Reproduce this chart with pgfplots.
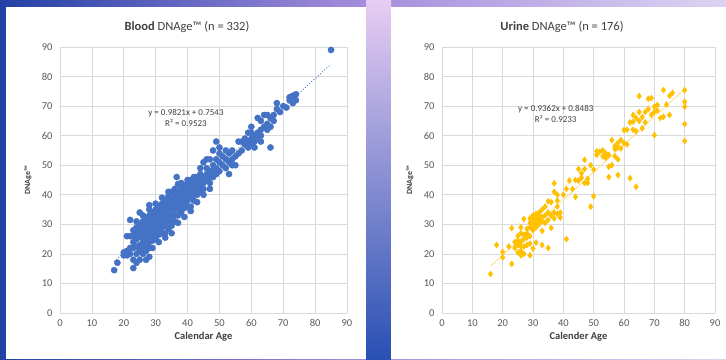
\documentclass[border=0pt]{standalone}
\usepackage{pgfplots}
\pgfplotsset{compat=1.18}
\usepackage{fontspec}
\setmainfont{Carlito}
\definecolor{bluept}{HTML}{4472C4}
\definecolor{orpt}{HTML}{FFC000}
\definecolor{ortrend}{HTML}{FFE2A0}
\definecolor{gridc}{HTML}{D9D9D9}
\definecolor{tickc}{HTML}{595959}
\definecolor{titc}{HTML}{404040}
\pgfplotsset{
  panel/.style={
    scale only axis, anchor=south west,
    height=266pt,
    xmin=0, xmax=90, ymin=0, ymax=90,
    xtick distance=10, ytick distance=10,
    grid=major, major grid style={gridc, line width=0.6pt},
    axis line style={draw=none},
    tick style={draw=none},
    /pgf/number format/assume math mode=true,
    ticklabel style={font=\fontsize{10.5}{12}\selectfont, text=tickc},
    xticklabel style={yshift=-3pt},
    yticklabel style={xshift=-4pt},
    xlabel style={font=\fontsize{10.5}{12}\selectfont\bfseries, text=titc, yshift=2pt},
    clip=false,
  }
}
\begin{document}
\begin{tikzpicture}
% background
\shade[left color={rgb,255:red,35;green,65;blue,165}, right color={rgb,255:red,220;green,212;blue,242}, middle color={rgb,255:red,165;green,140;blue,220}] (0,0) rectangle (726pt,359pt);
\shade[top color={rgb,255:red,232;green,205;blue,242}, bottom color={rgb,255:red,40;green,80;blue,180}] (366pt,0) rectangle (391pt,359pt);
\fill[white] (6pt,0) rectangle (366pt,352pt);
\fill[white] (391pt,0) rectangle (726pt,352pt);

\begin{axis}[panel, at={(60pt,46pt)}, width=287pt, xlabel={Calendar Age}]
\addplot[only marks, mark=*, mark size=3.1pt, mark options={fill=bluept, draw=bluept}] coordinates {
(17,14.5)(18,17)(20,19.5)(20,20.5)(21,19.5)(21,21)(21,26)(22,20)(22,22)(22,26)(22,31.5)(23,15.2)(23,18)(23,22)(23,24)(23,26)(23,28)
(24,17)(24,20)(24,22.5)(24,25)(24,27)(24,29)(25,18)(25,21)(25,23)(25,26)(25,28)(25,30)(25,34)
(26,20)(26,22)(26,24)(26,25.5)(26,27)(26,29)(26,31)(27,21)(27,23)(27,25)(27,27)(27,28.5)(27,30)(27,32)
(28,19)(28,22)(28,24)(28,26)(28,28)(28,30)(28,31)(28,33)(28,35)(29,24.5)(29,26)(29,27.5)(29,29)(29,31)(29,32.5)(29,34)
(30,25)(30,27)(30,28.5)(30,30)(30,31.5)(30,33)(30,35)(31,26.5)(31,28)(31,29.5)(31,31)(31,32.5)(31,34)(31,36)
(32,27)(32,29)(32,30.5)(32,32)(32,33.5)(32,35)(32,37)(33,27)(33,29.5)(33,31)(33,33)(33,34.5)(33,36)(33,38)
(34,28.5)(34,31)(34,32.5)(34,34)(34,35.5)(34,37)(34,39.5)(35,29.5)(35,31)(35,33)(35,35)(35,37)(35,38.5)(35,41)
(36,31)(36,33)(36,35)(36,36.5)(36,38)(36,40)(36.6,46)(37,33)(37,35)(37,37)(37,39)(37,41)(37,43.6)
(38,34)(38,36)(38,38)(38,40)(38,42)(39,35.5)(39,37)(39,39)(39,41)(39,43)(40,36)(40,38)(40,40)(40,42)(40,44)(40,45)
(41,36)(41,39)(41,41)(41,43)(41,45)(42,38)(42,40)(42,42)(42,44)(42,46)(43,40)(43,42)(43,44)(43,46)
(44,41)(44,43)(44,45)(44,47)(45,42)(45,44)(45,46)(45,51)(46,45)(46,47)(46,49)(47,44)(47,46)(47,48)(47,52)
(48,46)(48,48)(48,50)(48,55)(49,47)(49,49)(49,52)(49,58)(50,48)(50,51)(50,54)(51,50)(51,53)(52,49)(52,52)(52,55)
(53,47)(53,51)(53,54)(54,52)(54,55)(55,50)(55,53)(56,54)(56,58)(57,55)(58,57)(58,59)(59,56)(59,58)(59,61)
(60,57)(60,59)(60,61)(60,63)(61,56)(61,58)(61,60)(62,59)(62,61)(62,66)(63,60)(63,62)(63,65)(64,63)(64,67)
(65,62)(65,64)(66,56)(66,63)(66,66)(67,65)(67,67)(68,69)(68,71)(70,70)(71,69.5)(72,72)(72,73)(73,71)(73,73.5)(74,72)(74,74)(85,89)
(24,31)(26,33)(28,36.5)(30,37)(32,39)(34,41)(36,42)(38,44)(27,18)(29,22)(31,24)(33,25.5)(35,27)(37,30.5)(39,32.5)(41,34.5)(43,37.5)(45,40)(47,42)
(50,56)(54,50)(57,58)(63,58)(65,67)(69,68)(44,49)(46,52)
};
\addplot[bluept, dotted, line width=0.9pt] coordinates {(17,17.45)(85,84.23)};
\node[font=\fontsize{9}{11}\selectfont, text=titc, align=center] at (axis cs:39.5,66) {y = 0.9821x + 0.7543\\R² = 0.9523};
\end{axis}
\node[font=\fontsize{12.5}{14}\selectfont, text=titc] at (187pt,332pt) {\textbf{Blood} DNAge™ (n = 332)};
\node[font=\fontsize{8}{9}\selectfont\bfseries, text=titc, rotate=90] at (28pt,179pt) {DNAge™};

\begin{axis}[panel, at={(442pt,46pt)}, width=273pt, xlabel={Calender Age}]
\addplot[ortrend, line width=1pt] coordinates {(16,15.83)(80,75.74)};
\addplot[only marks, mark=diamond*, mark size=3pt, mark options={fill=orpt, draw=orpt}] coordinates {
(16,13.2)(18,23)(20,20.7)(20,18.8)(22,22.5)(23,16.6)(23,28.7)(24,22)(24,24)(25,20.5)(25,23)(25,24.5)(25,26)
(26,19.5)(26,21)(26,22.5)(26,24)(26,27)(26,29)(27,20)(27,22.5)(27,25)(27,26.5)(27,31.8)(28,23)(28,25.5)(28,27)(28,28.5)
(29,19.5)(29,23.5)(29,26)(29,29)(29,30.5)(29,32)(30,21.8)(30,28)(30,30)(30,31.5)(30,33)(31,23.8)(31,29)(31,30.5)(31,32)(31,33.5)
(32,30)(32,31.5)(32,33)(32,34)(33,23)(33,27.8)(33,31)(33,32.5)(33,35)(34,30.5)(34,33)(34,36)(35,22)(35,31.5)(35,34)(35,37.8)
(36,28.8)(36,33)(36,37.5)(37,32)(37,34)(37,41)(37,43.9)(38,33.5)(38,36)(38,38)(38,40)(39,32.3)(39,34)(40,40)(41,25)(41,42)
(42,44.8)(43,41.9)(44,39.3)(44,45)(45,44.8)(45,48.7)(46,45.8)(46,47.3)(47,44)(47,48.7)(47,51.8)(48,44)(48,45.4)(49,36)(49,50)
(50,39.5)(50,48.5)(51,53.5)(51,54.7)(52,54.6)(53,53)(53,55)(54,52.5)(54,54)(55,46)(55,49.5)(55,53.5)(56,58.5)(56,50)
(57,53)(57,55.5)(57,56.5)(58,46.7)(58,52)(58,56)(58,57.5)(59,55.7)(59,58.5)(60,57.5)(60,61.9)(61,62)(61,57)(62,45.6)(62,64.5)
(63,62)(63,64.7)(63,67)(64,42.7)(64,61.5)(64,66)(65,65)(65,68)(65,73.4)(66,62.5)(66,66.3)(67,64.5)(67,68)(68,69)(68,72.5)
(69,67)(69,72.7)(70,60.2)(70,68)(70,69.8)(71,70.4)(71,68.5)(72,66)(73,66.4)(73,75.4)(74,70.5)(75,67)(75,73.5)(76,74.5)
(80,75.4)(80,71.5)(80,69.8)(80,63.9)(80,58.2)
};
\node[font=\fontsize{9}{11}\selectfont, text=titc, align=center] at (axis cs:37.5,67.5) {y = 0.9362x + 0.8483\\R² = 0.9233};
\end{axis}
\node[font=\fontsize{12.5}{14}\selectfont, text=titc] at (562pt,332pt) {\textbf{Urine} DNAge™ (n = 176)};
\node[font=\fontsize{8}{9}\selectfont\bfseries, text=titc, rotate=90] at (410pt,179pt) {DNAge™};
\end{tikzpicture}
\end{document}
